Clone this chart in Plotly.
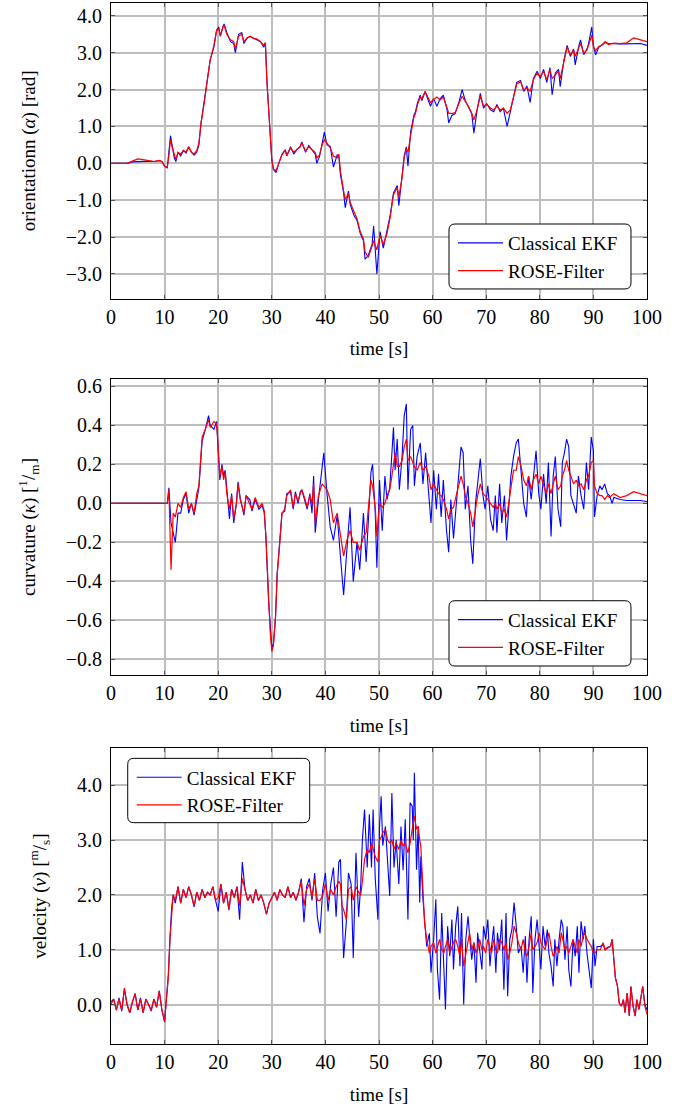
import plotly.graph_objects as go

# ---------------- data ----------------
t1 = [0, 1, 2, 3, 4, 5, 6, 7, 8, 9,
      9.5, 10, 10.5, 10.8, 11.1, 11.4, 11.8, 12.1, 12.5, 13,
      13.5, 14, 14.5, 15, 15.5, 16, 16.4, 16.8, 17.3, 17.9,
      18.5, 19.2, 19.7, 20.1, 20.4, 20.9, 21.1, 21.6, 22.3, 22.9,
      23.2, 23.8, 24.4, 24.8, 25.4, 26, 26.6, 27.2, 27.9, 28.5,
      28.8, 29.1, 29.4, 29.7, 30, 30.3, 30.8, 31.3, 31.9, 32.5,
      32.8, 33.5, 34.1, 34.7, 35.3, 35.6, 36.3, 36.9, 37.5, 38.1,
      38.4, 38.9, 39.4, 39.8, 40.3, 40.9, 41.5, 42.2, 42.5, 42.8,
      43.4, 43.7, 44.3, 44.6, 45.3, 45.9, 46.5, 47.1, 47.4, 48,
      48.7, 49, 49.6, 50.2, 50.8, 51.5, 52.1, 52.7, 53.4, 53.7,
      54.3, 54.7, 55.1, 55.4, 55.9, 56.5, 56.8, 57.2, 57.7, 58,
      58.6, 59.2, 59.6, 60.2, 60.8, 61.4, 62, 62.7, 63, 63.6,
      64.2, 64.9, 65.5, 66.1, 66.7, 67.3, 67.7, 68.3, 68.9, 69.5,
      70.1, 70.8, 71.4, 72, 72.6, 73.2, 73.9, 74.5, 75.1, 75.7,
      76.4, 77, 77.6, 78.2, 78.8, 79.5, 80.1, 80.7, 81.3, 81.9,
      82.3, 82.9, 83.5, 83.8, 84.5, 85.1, 85.7, 86.3, 86.6, 87.3,
      87.6, 88.2, 88.8, 89.1, 89.7, 90, 90.4, 91, 91.6, 92.2,
      92.8, 93.8, 95, 96.2, 97.5, 98.8, 100]

alpha_rose = [0.0, 0.0, 0.02, 0.0, 0.06, 0.12, 0.1, 0.08, 0.05, 0.08,
              0.05, -0.08, -0.1, 0.2, 0.65, 0.45, 0.2, 0.1, 0.3, 0.25,
              0.35, 0.3, 0.45, 0.3, 0.25, 0.35, 0.55, 1.1, 1.55, 2.25,
              2.8, 3.2, 3.6, 3.65, 3.45, 3.7, 3.75, 3.5, 3.35, 3.3,
              3.1, 3.45, 3.5, 3.3, 3.4, 3.45, 3.38, 3.38, 3.3, 3.2,
              3.28, 2.2, 1.45, 0.65, 0.1, -0.15, -0.2, 0.0, 0.23, 0.35,
              0.22, 0.42, 0.3, 0.38, 0.45, 0.55, 0.33, 0.45, 0.38, 0.3,
              0.15, 0.22, 0.5, 0.64, 0.55, 0.42, 0.2, 0.15, 0.25, -0.2,
              -0.75, -0.98, -0.82, -1.05, -1.3, -1.5, -1.85, -2.05, -2.4, -2.55,
              -2.25, -2.1, -2.35, -1.95, -2.2, -1.9, -1.45, -0.85, -0.65, -0.9,
              -0.4, 0.15, 0.4, 0.3, 0.75, 1.25, 1.35, 1.6, 1.8, 1.75,
              1.95, 1.75, 1.65, 1.73, 1.8, 1.72, 1.8, 1.5, 1.36, 1.35,
              1.38, 1.62, 1.82, 1.68, 1.55, 1.36, 1.18, 1.45, 1.82, 1.55,
              1.6, 1.5, 1.45, 1.55, 1.45, 1.5, 1.36, 1.45, 1.78, 2.15,
              2.22, 1.99, 2.05, 1.95, 2.27, 2.45, 2.36, 2.49, 2.27, 2.54,
              2.3, 2.4, 2.5, 2.3, 2.77, 3.15, 2.94, 3.08, 2.9, 3.17,
              3.25, 2.99, 3.08, 3.2, 3.48, 3.17, 3.05, 3.17, 3.21, 3.3,
              3.22, 3.26, 3.25, 3.27, 3.4, 3.35, 3.3]

alpha_ekf = [0.0, 0.0, 0.01, 0.0, 0.04, 0.05, 0.05, 0.06, 0.05, 0.07,
             0.05, -0.08, -0.12, 0.3, 0.75, 0.5, 0.15, 0.05, 0.3, 0.2,
             0.35, 0.28, 0.45, 0.3, 0.22, 0.3, 0.5, 1.1, 1.6, 2.3,
             2.8, 3.15, 3.62, 3.7, 3.45, 3.72, 3.78, 3.55, 3.3, 3.25,
             3.0, 3.5, 3.55, 3.25, 3.4, 3.44, 3.4, 3.35, 3.3, 3.15,
             3.26, 2.2, 1.45, 0.64, 0.1, -0.17, -0.25, 0.0, 0.25, 0.37,
             0.2, 0.45, 0.25, 0.38, 0.46, 0.58, 0.3, 0.48, 0.35, 0.25,
             0.0, 0.19, 0.55, 0.85, 0.5, 0.46, -0.1, 0.23, 0.2, -0.3,
             -0.8, -1.2, -0.75, -1.1, -1.4, -1.55, -1.9, -2.1, -2.6, -2.5,
             -2.2, -1.7, -3.0, -1.85, -2.3, -1.8, -1.4, -0.8, -0.6, -1.15,
             -0.35, 0.2, 0.45, -0.08, 0.85, 1.3, 1.4, 1.65, 1.85, 1.7,
             1.95, 1.7, 1.55, 1.75, 1.55, 1.75, 1.85, 1.45, 1.1, 1.3,
             1.35, 1.65, 2.0, 1.7, 1.5, 1.35, 0.82, 1.45, 1.9, 1.5,
             1.62, 1.45, 1.4, 1.6, 1.4, 1.5, 1.0, 1.45, 1.8, 2.2,
             2.25, 1.95, 2.1, 1.65, 2.3, 2.5, 2.3, 2.55, 2.2, 2.6,
             1.86, 2.45, 2.55, 2.08, 2.8, 3.2, 2.9, 3.1, 2.67, 3.2,
             3.35, 2.95, 3.1, 3.25, 3.7, 3.2, 2.94, 3.15, 3.22, 3.28,
             3.25, 3.24, 3.24, 3.24, 3.24, 3.25, 3.2]

t2 = [0, 10.5, 10.8, 11.2, 11.6, 12, 12.5, 13, 13.5, 14,
      14.5, 15, 15.5, 16, 16.4, 16.7, 17, 17.6, 18.2, 18.5,
      19.2, 19.7, 19.9, 20.3, 20.7, 21, 21.3, 21.6, 22.1, 22.5,
      22.9, 23.4, 23.7, 24.1, 24.8, 25.2, 25.9, 26.3, 26.9, 27.6,
      28.2, 28.6, 28.9, 29.4, 29.7, 30, 30.3, 30.7, 31, 31.5,
      31.9, 32.4, 32.8, 33.5, 34, 34.4, 34.9, 35.3, 35.6, 36.1,
      36.6, 37.1, 37.5, 37.8, 38.1, 38.7, 39.4, 39.7, 40.3, 40.9,
      41.5, 42.2, 42.8, 43.4, 44, 44.6, 45.2, 45.9, 46.4, 46.8,
      47.1, 47.6, 48.1, 48.5, 48.8, 49.3, 49.6, 50.1, 50.6, 51.1,
      51.5, 52, 52.3, 52.7, 53, 53.4, 53.8, 54.3, 54.7, 55.1,
      55.4, 55.9, 56.3, 56.6, 57.1, 57.7, 58.2, 58.7, 59.3, 59.7,
      60.2, 60.7, 61.1, 61.6, 62, 62.6, 63, 63.4, 63.9, 64.4,
      64.9, 65.3, 65.7, 66.1, 66.6, 67.1, 67.5, 68, 68.4, 68.9,
      69.4, 69.8, 70.3, 70.8, 71.3, 71.7, 72, 72.5, 72.9, 73.4,
      73.8, 74.2, 74.6, 75.1, 75.6, 76, 76.5, 77, 77.5, 77.9,
      78.4, 78.8, 79.3, 79.8, 80.2, 80.7, 81.2, 81.6, 82.1, 82.5,
      82.9, 83.4, 83.9, 84.2, 84.6, 85, 85.4, 85.8, 86.3, 86.8,
      87.2, 87.7, 88.2, 88.7, 89.1, 89.6, 90, 90.2, 90.7, 91.2,
      91.6, 92.1, 92.6, 93, 93.5, 93.8, 95, 96.2, 97.5, 98.8,
      100]

kappa_rose = [0, 0, 0.07, -0.34, -0.05, -0.07, 0.0, -0.02, 0.03, 0.06,
              -0.03, 0.0, -0.05, 0.05, 0.09, 0.22, 0.34, 0.38, 0.43, 0.39,
              0.42, 0.41, 0.34, 0.14, 0.19, 0.12, 0.16, 0.05, -0.03, 0.04,
              -0.08, 0.0, 0.1, 0.02, -0.05, 0.04, 0.0, -0.03, 0.03, -0.02,
              0.0, -0.04, -0.17, -0.51, -0.66, -0.76, -0.73, -0.58, -0.37, -0.2,
              -0.05, -0.03, 0.04, 0.07, -0.02, 0.05, 0.01, 0.05, 0.07, 0.03,
              -0.02, 0.04, 0.0, 0.1, -0.1, 0.04, 0.1, 0.09, 0.07, 0.02,
              -0.1, -0.05, -0.17, -0.27, -0.19, -0.14, -0.2, -0.2, -0.24, -0.19,
              -0.17, -0.15, 0.0, 0.12, 0.09, -0.02, -0.17, 0.0, -0.02, 0.0,
              0.04, 0.07, 0.12, 0.22, 0.26, 0.19, 0.19, 0.22, 0.29, 0.33,
              0.22, 0.24, 0.21, 0.19, 0.17, 0.21, 0.17, 0.19, 0.14, 0.07,
              0.1, 0.07, 0.05, 0.04, 0.02, -0.03, -0.08, -0.03, -0.02, 0.04,
              0.09, 0.14, 0.1, 0.04, 0.0, -0.05, -0.12, -0.03, 0.04, 0.1,
              0.05, 0.04, 0.02, 0.0, -0.02, 0.0, -0.03, 0.0, -0.05, -0.03,
              -0.07, 0.0, 0.07, 0.17, 0.17, 0.24, 0.19, 0.12, 0.09, 0.14,
              0.07, 0.12, 0.15, 0.1, 0.14, 0.09, 0.05, 0.1, 0.05, 0.1,
              0.14, 0.07, 0.09, 0.14, 0.17, 0.22, 0.17, 0.14, 0.1, 0.12,
              0.09, 0.1, 0.07, 0.12, 0.14, 0.21, 0.22, 0.09, 0.05, 0.04,
              0.04, 0.02, 0.04, 0.03, 0.04, 0.05, 0.03, 0.04, 0.06, 0.05,
              0.04]

kappa_ekf = [0, 0, 0.08, -0.1, -0.15, -0.2, -0.05, -0.05, 0.02, 0.05,
             -0.05, 0.0, -0.06, 0.03, 0.08, 0.2, 0.32, 0.38, 0.45, 0.4,
             0.38, 0.42, 0.33, 0.12, 0.2, 0.14, 0.17, 0.06, -0.08, 0.05,
             -0.1, 0.0, 0.11, 0.03, -0.06, 0.04, 0.02, -0.04, 0.02, -0.03,
             -0.01, -0.05, -0.17, -0.5, -0.65, -0.74, -0.72, -0.58, -0.36, -0.2,
             -0.05, -0.04, 0.05, 0.06, -0.03, 0.06, 0.0, 0.06, 0.07, 0.02,
             -0.03, 0.05, -0.05, 0.14, -0.15, 0.02, 0.17, 0.26, 0.05, -0.12,
             -0.19, -0.06, -0.27, -0.47, -0.24, -0.02, -0.4, -0.2, -0.34, -0.18,
             -0.05, -0.3, 0.0, 0.16, 0.2, -0.05, -0.33, 0.12, -0.14, 0.14,
             0.02, 0.08, 0.21, 0.39, 0.17, 0.33, 0.07, 0.24, 0.45, 0.51,
             0.07, 0.38, 0.4, 0.09, 0.24, 0.31, 0.1, 0.26, 0.04, -0.1,
             0.17, -0.03, 0.15, -0.07, 0.12, -0.14, -0.25, 0.02, -0.18, 0.0,
             0.19, 0.29, 0.26, -0.03, 0.09, -0.19, -0.31, 0.0, 0.1, 0.23,
             0.04, -0.03, 0.09, -0.08, -0.14, 0.04, -0.15, 0.1, -0.1, 0.04,
             -0.19, -0.02, 0.14, 0.24, 0.31, 0.33, 0.17, 0.0, -0.07, 0.14,
             0.02, 0.15, 0.27, 0.05, -0.03, 0.15, 0.0, 0.21, -0.17, 0.14,
             0.24, -0.03, -0.12, 0.21, 0.26, 0.33, 0.29, 0.04, 0.0, -0.05,
             0.14, 0.04, -0.03, 0.21, 0.07, 0.34, 0.27, -0.07, 0.04, 0.09,
             0.07, 0.1, 0.05, 0.04, 0.0, 0.03, 0.02, 0.015, 0.015, 0.015,
             0.01]

t3 = [0, 0.5, 1, 1.5, 2, 2.5, 3, 3.5, 4, 4.5,
      5, 5.5, 6, 6.5, 7, 7.5, 8, 8.5, 9, 9.5,
      10, 10.3, 10.7, 11, 11.3, 11.6, 12, 12.5, 13, 13.5,
      14, 14.5, 15, 15.5, 16, 16.5, 17, 17.5, 18, 18.5,
      19, 19.5, 20, 20.5, 21, 21.5, 22, 22.5, 23, 23.5,
      24, 24.5, 25, 25.5, 26, 26.5, 27, 27.5, 28, 28.5,
      29, 29.5, 30, 30.5, 31, 31.5, 32, 32.5, 33, 33.5,
      34, 34.5, 35, 35.5, 36, 36.5, 37, 37.5, 38, 38.5,
      39, 39.5, 40, 40.5, 41, 41.5, 42, 42.5, 42.8, 43.1,
      43.4, 43.9, 44.3, 44.8, 45.2, 45.7, 46.2, 46.6, 46.9, 47.3,
      47.8, 48.2, 48.6, 48.9, 49.3, 49.8, 50.1, 50.4, 50.7, 51.2,
      51.6, 52, 52.4, 52.8, 53.2, 53.7, 54.1, 54.5, 54.9, 55.4,
      55.8, 56.2, 56.4, 56.6, 57, 57.3, 57.6, 57.8, 58.2, 58.5,
      58.9, 59.4, 59.7, 60.2, 60.6, 60.9, 61.3, 61.7, 62.1, 62.4,
      62.8, 63.2, 63.6, 63.9, 64.3, 64.7, 65.1, 65.4, 65.8, 66.2,
      66.6, 66.9, 67.3, 67.7, 68.1, 68.4, 68.8, 69.2, 69.5, 69.9,
      70.3, 70.7, 71, 71.4, 71.8, 72.1, 72.5, 72.9, 73.3, 73.7,
      74, 74.4, 74.8, 75.2, 75.6, 76, 76.5, 76.9, 77.3, 77.6,
      78, 78.4, 78.7, 79.1, 79.5, 79.9, 80.2, 80.6, 81, 81.4,
      81.7, 82.1, 82.5, 82.8, 83.2, 83.6, 84, 84.3, 84.7, 85.1,
      85.4, 85.8, 86.2, 86.6, 87, 87.3, 87.7, 88.1, 88.4, 88.8,
      89.2, 89.6, 90, 90.3, 90.7, 91.3, 91.8, 92.2, 92.7, 93.2,
      93.5, 93.8, 94.1, 94.5, 94.8, 95.2, 95.6, 95.9, 96.3, 96.7,
      97, 97.4, 97.8, 98.1, 98.5, 98.9, 99.2, 99.6, 100]

v_rose = [0.0, 0.1, -0.1, 0.1, -0.1, 0.3, 0.0, -0.15, 0.05, 0.2,
          -0.1, 0.1, -0.15, 0.1, 0.0, -0.1, 0.1, -0.05, 0.25, -0.1,
          -0.3, 0.1, 0.5, 1.2, 1.7, 2.0, 1.9, 2.15, 1.85, 2.1,
          1.95, 2.15, 2.0, 1.8, 2.05, 1.9, 2.1, 1.95, 2.05, 2.0,
          2.15, 1.9, 1.95, 2.2, 1.85, 2.05, 1.75, 2.1, 1.95, 2.15,
          1.8, 2.3, 2.1, 1.9, 2.0, 1.85, 2.1, 1.9, 2.0, 1.85,
          1.65, 1.85, 1.95, 2.05, 1.9, 2.1, 2.0, 1.95, 2.15, 1.95,
          2.05, 1.9, 2.05, 2.25, 1.8, 2.1, 2.2, 1.95, 2.3, 1.9,
          1.9, 2.0, 2.2, 1.9, 2.1, 2.0, 2.15, 2.25, 2.2, 1.8,
          1.73, 1.55, 2.1, 2.15, 1.9, 2.15, 2.05, 2.0, 2.25, 2.65,
          2.83, 2.77, 2.95, 2.83, 2.7, 2.6, 3.0, 3.05, 3.13, 3.2,
          3.0, 2.95, 3.0, 2.83, 2.95, 2.83, 3.0, 2.89, 2.95, 2.77,
          2.95, 3.2, 3.38, 3.44, 3.2, 3.25, 3.0, 2.89, 2.1, 1.49,
          1.19, 0.94, 1.06, 1.13, 0.94, 1.06, 1.19, 1.0, 0.94, 1.06,
          1.19, 0.94, 1.06, 1.13, 1.19, 1.06, 0.88, 1.19, 0.7, 0.94,
          1.13, 1.31, 1.0, 1.13, 0.94, 1.0, 1.19, 1.0, 1.06, 0.94,
          1.19, 1.06, 0.94, 1.19, 1.0, 0.94, 1.19, 1.13, 1.0, 1.13,
          0.82, 0.94, 1.13, 1.43, 1.31, 1.13, 1.0, 1.19, 0.94, 0.88,
          1.06, 1.31, 1.0, 1.06, 1.13, 1.31, 1.13, 1.06, 1.0, 1.19,
          1.31, 1.06, 0.88, 0.94, 1.06, 0.94, 1.31, 1.19, 1.0, 1.06,
          0.94, 1.06, 1.19, 1.06, 0.94, 1.19, 1.06, 1.25, 1.31, 1.19,
          1.13, 1.06, 0.94, 0.94, 1.0, 1.0, 1.13, 1.0, 1.03, 1.06,
          1.19, 0.82, 0.49, 0.33, 0.03, -0.03, 0.09, -0.15, 0.21, -0.21,
          0.33, -0.03, -0.21, 0.09, -0.09, 0.15, 0.33, -0.03, -0.18]

v_ekf = [0.05, 0.1, -0.1, 0.12, -0.12, 0.28, 0.0, -0.15, 0.05, 0.2,
         -0.1, 0.12, -0.15, 0.1, 0.0, -0.12, 0.1, -0.05, 0.25, -0.1,
         -0.32, 0.1, 0.55, 1.2, 1.75, 2.0, 1.85, 2.15, 1.85, 2.1,
         1.95, 2.15, 2.0, 1.78, 2.05, 1.9, 2.1, 1.95, 2.05, 2.0,
         2.15, 1.9, 1.7, 2.2, 1.85, 2.05, 1.72, 2.1, 1.95, 2.15,
         1.55, 2.6, 2.1, 1.9, 2.0, 1.85, 2.1, 1.9, 2.0, 1.85,
         1.65, 1.85, 1.95, 2.05, 1.9, 2.1, 2.0, 1.95, 2.15, 1.95,
         2.05, 1.9, 2.05, 2.3, 1.5, 2.15, 2.3, 1.9, 2.4, 1.6,
         1.3, 2.1, 2.4, 1.7, 2.2, 2.5, 1.6, 2.6, 2.65, 1.5,
         0.85, 1.5, 2.4, 2.2, 0.85, 2.77, 1.6, 2.2, 3.0, 3.56,
         2.5, 3.47, 2.5, 3.56, 2.3, 1.55, 3.25, 3.8, 2.9, 3.25,
         2.7, 1.98, 3.86, 2.5, 3.0, 2.2, 3.25, 2.45, 3.38, 1.55,
         3.68, 3.62, 3.0, 4.23, 2.46, 3.25, 1.86, 2.7, 1.92, 1.55,
         1.06, 1.3, 0.58, 1.19, 1.92, 0.64, 0.09, 1.67, 0.64, -0.09,
         1.43, 0.88, 1.55, 0.64, 1.43, 1.79, 0.7, 1.67, 0.0, 1.19,
         1.61, 1.19, 0.82, 1.13, 0.4, 1.31, 0.94, 0.64, 1.43, 1.19,
         1.55, 0.7, 1.06, 1.43, 0.58, 1.31, 1.0, 1.55, 0.27, 1.67,
         0.15, 1.19, 1.37, 1.86, 1.43, 0.94, 1.06, 0.58, 1.25, 0.4,
         1.19, 1.61, 0.21, 1.19, 1.55, 0.94, 0.64, 1.43, 1.06, 1.37,
         0.94, 0.7, 0.33, 1.19, 0.7, 1.19, 1.55, 1.43, 0.82, 1.43,
         0.64, 0.33, 1.19, 0.88, 1.43, 0.58, 1.52, 1.19, 1.43, 0.94,
         0.58, 0.3, 1.19, 0.7, 1.06, 1.06, 1.1, 1.0, 1.05, 1.06,
         1.19, 0.82, 0.49, 0.33, 0.03, -0.03, 0.09, -0.15, 0.21, -0.21,
         0.33, -0.03, -0.21, 0.09, -0.09, 0.15, 0.33, 0.0, -0.1]

series_names = ["Classical EKF", "ROSE-Filter"]
y_titles = ["orientationn (<i>α</i>) [rad]",
            "curvature (<i>κ</i>) [<sup>1</sup>/<sub>m</sub>]",
            "velocity (<i>v</i>) [<sup>m</sup>/<sub>s</sub>]"]
x_title = "time [s]"
y_ticks = [[-3, -2, -1, 0, 1, 2, 3, 4],
           [-0.8, -0.6, -0.4, -0.2, 0, 0.2, 0.4, 0.6],
           [0, 1, 2, 3, 4]]
y_ranges = [[-3.67, 4.35], [-0.88, 0.638], [-0.72, 4.68]]
x_ticks = [0, 10, 20, 30, 40, 50, 60, 70, 80, 90, 100]

# ---------------- figure ----------------
FONT = "Liberation Serif"
BLUE = "#0000ff"
RED = "#ff0000"
GRID = "#bdbdbd"
W, H = 688, 1110
ML, MR, MT, MB = 111, 41, 3, 66
PW, PH = W - ML - MR, H - MT - MB

panels = [(t1, alpha_ekf, alpha_rose), (t2, kappa_ekf, kappa_rose), (t3, v_ekf, v_rose)]
domains = [[0.716, 1.0], [0.3545, 0.6388], [0.0, 0.2843]]
legend_boxes = [(0.6306, 0.9701, 0.7253, 0.7877),
                (0.6306, 0.9701, 0.3631, 0.4258),
                (0.0312, 0.3707, 0.2126, 0.2744)]
legend_keys = ["legend", "legend2", "legend3"]

fig = go.Figure()
for i, (t, ekf, rose) in enumerate(panels):
    xa = "x" if i == 0 else f"x{i+1}"
    ya = "y" if i == 0 else f"y{i+1}"
    fig.add_trace(go.Scatter(x=t, y=ekf, mode="lines", name=series_names[0],
                             line=dict(color=BLUE, width=1.1), xaxis=xa, yaxis=ya,
                             legend=legend_keys[i]))
    fig.add_trace(go.Scatter(x=t, y=rose, mode="lines", name=series_names[1],
                             line=dict(color=RED, width=1.2), xaxis=xa, yaxis=ya,
                             legend=legend_keys[i]))

layout = dict(
    width=W, height=H,
    margin=dict(l=ML, r=MR, t=MT, b=MB),
    paper_bgcolor="white", plot_bgcolor="white",
    font=dict(family=FONT, size=19, color="black"),
    showlegend=True,
)

axis_common = dict(showline=True, linecolor="black", linewidth=1, mirror="ticks",
                   showgrid=True, gridcolor=GRID, gridwidth=1.5, zeroline=False,
                   ticks="inside", ticklen=4, tickcolor="#555555", tickwidth=1,
                   automargin=False,
                   tickfont=dict(family=FONT, size=20, color="black"))

for i in range(3):
    xk = "xaxis" if i == 0 else f"xaxis{i+1}"
    yk = "yaxis" if i == 0 else f"yaxis{i+1}"
    ya = "y" if i == 0 else f"y{i+1}"
    xa = "x" if i == 0 else f"x{i+1}"
    layout[xk] = dict(axis_common, domain=[0, 1], anchor=ya, range=[0, 100],
                      tickvals=x_ticks, ticklabelstandoff=0,
                      title=dict(text=x_title, standoff=15,
                                 font=dict(family=FONT, size=19)))
    layout[yk] = dict(axis_common, domain=domains[i], anchor=xa, range=y_ranges[i],
                      tickvals=y_ticks[i], tickformat=".1f", ticklabelstandoff=4,
                      title=dict(text=y_titles[i], standoff=25,
                                 font=dict(family=FONT, size=19)))
    x0, x1, y0, y1 = legend_boxes[i]
    layout[legend_keys[i]] = dict(x=x0 + 4 / PW, y=y1, xanchor="left", yanchor="top",
                                  xref="paper", yref="paper",
                                  bgcolor="rgba(0,0,0,0)", borderwidth=0,
                                  itemwidth=45,
                                  font=dict(family=FONT, size=19, color="black"))

shapes = []
for (x0, x1, y0, y1) in legend_boxes:
    rx, ry = 6 / PW, 6 / PH
    path = (f"M {x0+rx},{y1} L {x1-rx},{y1} Q {x1},{y1} {x1},{y1-ry} "
            f"L {x1},{y0+ry} Q {x1},{y0} {x1-rx},{y0} L {x0+rx},{y0} "
            f"Q {x0},{y0} {x0},{y0+ry} L {x0},{y1-ry} Q {x0},{y1} {x0+rx},{y1} Z")
    shapes.append(dict(type="path", path=path, xref="paper", yref="paper",
                       fillcolor="white", line=dict(color="black", width=1),
                       layer="above"))
layout["shapes"] = shapes

fig.update_layout(**layout)
fig.write_html("out.html", config={"displayModeBar": False},
               post_script="document.body.style.margin='0';document.body.style.overflow='hidden';")
